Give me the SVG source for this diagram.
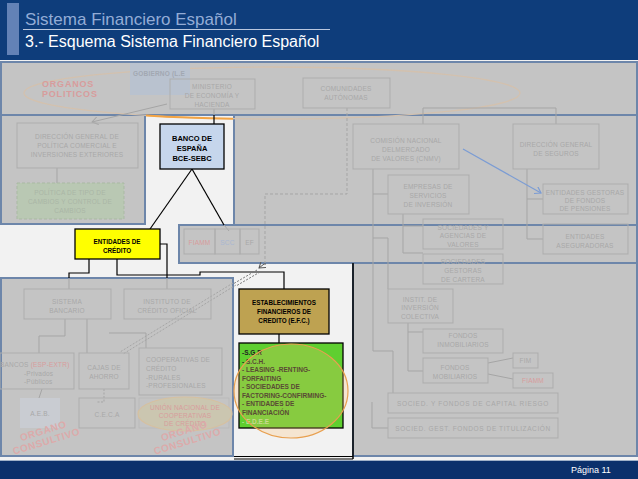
<svg xmlns="http://www.w3.org/2000/svg" width="638" height="479" viewBox="0 0 638 479">
<defs>
<style>
.t{font-family:"Liberation Sans",Arial,Helvetica,sans-serif;font-size:6.5px;fill:#a8a8a8;text-anchor:middle;letter-spacing:0.2px}
.tl{text-anchor:start}
.r{fill:#d89c9c}
.bu{fill:#a9b7d2}
.bx{fill:none;stroke:#adadad;stroke-width:1}
.ln{fill:none;stroke:#a5a5a5;stroke-width:1}
.k{fill:none;stroke:#000;stroke-width:1.2}
.pn{fill:#c4c4c4;stroke:#6d86aa;stroke-width:2}
.fb{font-family:"Liberation Sans",Arial,Helvetica,sans-serif;font-weight:bold;fill:#000;text-anchor:middle}
.g{font-family:"Liberation Sans",Arial,Helvetica,sans-serif;font-weight:bold;font-size:6.5px;fill:#222}
.oc{font-family:"Liberation Sans",Arial,Helvetica,sans-serif;font-weight:bold;font-size:10px;fill:#dcaaaa;text-anchor:middle;letter-spacing:0.5px}
</style>
<marker id="ag" markerWidth="8" markerHeight="8" refX="6" refY="4" orient="auto" markerUnits="userSpaceOnUse"><path d="M0,0 L6,4 L0,8" fill="none" stroke="#a5a5a5" stroke-width="1"/></marker>
<marker id="ab" markerWidth="8" markerHeight="8" refX="6" refY="4" orient="auto" markerUnits="userSpaceOnUse"><path d="M0,0 L6,4 L0,8" fill="none" stroke="#7b9cd4" stroke-width="1.2"/></marker>
<marker id="ad" markerWidth="8" markerHeight="8" refX="6" refY="4" orient="auto" markerUnits="userSpaceOnUse"><path d="M0,0 L6,4 L0,8" fill="none" stroke="#555" stroke-width="1"/></marker>
<clipPath id="cw"><rect x="146" y="114" width="87" height="10"/></clipPath>
</defs>

<!-- background -->
<rect x="0" y="0" width="638" height="479" fill="#f2f2f2"/>

<!-- header -->
<g id="header">
<rect x="0" y="0" width="638" height="60" fill="#0e3d7b"/>
<rect x="7" y="3" width="12" height="52" fill="#6382b6"/>
<text x="25" y="25" font-family="Liberation Sans,Arial,sans-serif" font-size="17" fill="#93acd6">Sistema Financiero Español</text>
<line x1="23" y1="29.5" x2="330" y2="29.5" stroke="#b9c7df" stroke-width="1"/>
<text x="25" y="47" font-family="Liberation Sans,Arial,sans-serif" font-size="16" fill="#ffffff">3.- Esquema Sistema Financiero Español</text>
</g>

<!-- overlay panels -->
<g id="panels">
<rect class="pn" x="1" y="62" width="636" height="53"/>
<rect class="pn" x="1" y="115" width="144" height="109"/>
<rect class="pn" x="234" y="115" width="403" height="110"/>
<rect class="pn" x="179" y="225" width="458" height="38"/>
<rect class="pn" x="1" y="278" width="232" height="178"/>
<rect class="pn" x="353" y="263" width="284" height="193"/>
<line x1="353" y1="263" x2="353" y2="459" stroke="#000" stroke-width="1.5"/>
<line x1="234" y1="456.5" x2="353" y2="456.5" stroke="#000" stroke-width="1"/>
<line x1="234" y1="459" x2="353" y2="459" stroke="#000" stroke-width="1"/>
</g>

<!-- big faded ellipse (organos politicos) -->
<g id="organos-politicos">
<ellipse cx="272" cy="93" rx="248" ry="26" fill="none" stroke="#d3c1ae" stroke-width="1.3"/>
<ellipse cx="272" cy="93" rx="248" ry="26" fill="none" stroke="#f4a443" stroke-width="2" clip-path="url(#cw)"/>
<text class="t tl r" x="42" y="87" style="font-size:9px;font-weight:bold;letter-spacing:0.8px">ORGANOS</text>
<text class="t tl r" x="42" y="97" style="font-size:9px;font-weight:bold;letter-spacing:0.8px">POLITICOS</text>
</g>

<!-- connectors -->
<g id="connectors">
<path class="ln" d="M167,104 L92,122" marker-end="url(#ag)"/>
<path class="ln" d="M214,109 V115"/>
<path class="ln" d="M57,168 V183"/>
<path class="ln" d="M423,124 V108 H556 V124"/>
<path class="ln" d="M373,169 V351 H393 V393"/>
<path class="ln" d="M373,194 H388"/>
<path class="ln" d="M373,238 H388 V289"/>
<path class="ln" d="M403,214 V253 H423"/>
<path class="ln" d="M403,226 H423"/>
<path class="ln" d="M527,169 V239 H543"/>
<path class="ln" d="M527,199 H543"/>
<path class="ln" d="M408,323 V371 H423"/>
<path class="ln" d="M408,332 H423"/>
<path class="ln" d="M488,363 L513,358"/>
<path class="ln" d="M488,374 L513,379"/>
<path class="ln" d="M372,402 V428 H388"/>
<path class="ln" d="M65,319 V336 H39 V353"/>
<path class="ln" d="M87,319 V353"/>
<path class="ln" d="M109,333 H146 V348"/>
<path class="ln" d="M42,389 L39,398"/>
<path class="ln" d="M104,389 V402 H97" stroke-dasharray="2 1.5"/>
<path class="ln" d="M69,278 V289"/>
<path class="ln" d="M167,278 V289"/>
<path class="ln" d="M224,225 L229,231"/>
<path class="ln" d="M347,108 V194 H265 V263" stroke-dasharray="3 2"/>
<path class="ln" d="M233,283 L120,352" stroke-dasharray="2 1.5"/>
<path class="ln" d="M236,285 L123,354" stroke-dasharray="2 1.5"/>
<path d="M463,149 L541,193" fill="none" stroke="#7b9cd4" stroke-width="1.2" marker-end="url(#ab)"/>
<path class="k" d="M214,115 V124"/>
<path class="k" d="M192,169 L150,229"/>
<path class="k" d="M192,169 L224,225"/>
<path class="k" d="M89,259 V273 H69 V278"/>
<path class="k" d="M117,259 V275 H200 V272 H284 V289"/>
<path class="k" d="M160,244 H167 V278"/>
<path class="k" d="M279,334 V343"/>
<path d="M265,263 V265" fill="none" stroke="#555" stroke-width="1" stroke-dasharray="3 2"/>
<path d="M264,264 L259,268" fill="none" stroke="#555" stroke-width="1" marker-end="url(#ad)"/>
<path d="M257,270 L233,284" fill="none" stroke="#777" stroke-width="1" stroke-dasharray="2 1.5"/>
<path d="M260,272 L236,286" fill="none" stroke="#777" stroke-width="1" stroke-dasharray="2 1.5"/>
</g>

<!-- top panel nodes -->
<g id="gobierno">
<rect x="130" y="63" width="60" height="32" fill="#b9c2cf"/>
<text class="t tl" x="133" y="76" style="font-weight:bold;fill:#a2a8b2">GOBIERNO (L.E</text>
</g>
<g id="ministerio">
<rect class="bx" x="170" y="79" width="85" height="30"/>
<text class="t" x="212" y="89">MINISTERIO</text>
<text class="t" x="212" y="98">DE ECONOMÍA Y</text>
<text class="t" x="212" y="107">HACIENDA</text>
</g>
<g id="comunidades">
<rect class="bx" x="303" y="78" width="87" height="30"/>
<text class="t" x="346" y="91">COMUNIDADES</text>
<text class="t" x="346" y="100">AUTÓNOMAS</text>
</g>

<!-- left panel nodes -->
<g id="dg-politica-comercial">
<rect class="bx" x="17" y="123" width="121" height="45"/>
<text class="t" x="77" y="139">DIRECCIÓN GENERAL DE</text>
<text class="t" x="77" y="148">POLÍTICA COMERCIAL E</text>
<text class="t" x="77" y="157">INVERSIONES EXTERIORES</text>
</g>
<g id="politica-tipo-cambio">
<rect x="17" y="183" width="107" height="36" fill="#b9c8b3" stroke="#a9b9a3" stroke-dasharray="3 2"/>
<text class="t" x="70" y="195" style="fill:#aab6a6">POLÍTICA DE TIPO DE</text>
<text class="t" x="70" y="204" style="fill:#aab6a6">CAMBIOS Y CONTROL DE</text>
<text class="t" x="70" y="213" style="fill:#aab6a6">CAMBIOS</text>
</g>

<!-- focus nodes -->
<g id="banco-espana">
<rect x="160" y="124" width="64" height="45" fill="#c6d6ec" stroke="#000" stroke-width="1.3"/>
<text class="fb" x="192" y="141" font-size="7.5">BANCO DE</text>
<text class="fb" x="192" y="151" font-size="7.5">ESPAÑA</text>
<text class="fb" x="192" y="161" font-size="7.5">BCE-SEBC</text>
</g>
<g id="entidades-credito">
<rect x="75" y="229" width="85" height="30" fill="#ffff00" stroke="#000" stroke-width="1.3"/>
<text class="fb" x="117" y="244" font-size="6.3">ENTIDADES DE</text>
<text class="fb" x="117" y="253" font-size="6.3">CRÉDITO</text>
</g>
<g id="efc">
<rect x="239" y="289" width="90" height="45" fill="#bea251" stroke="#000" stroke-width="1.3"/>
<text class="fb" x="284" y="305" font-size="6.3">ESTABLECIMIENTOS</text>
<text class="fb" x="284" y="314" font-size="6.3">FINANCIEROS DE</text>
<text class="fb" x="284" y="323" font-size="6.3">CREDITO  (E.F.C.)</text>
</g>
<g id="efc-tipos">
<rect x="239" y="343" width="104" height="85" fill="#5fcf30" stroke="#000" stroke-width="1.3"/>
<text class="g" x="242" y="355">-S.G.R</text>
<text class="g" x="242" y="364">- S.C.H.</text>
<text class="g" x="242" y="372">- LEASING -RENTING-</text>
<text class="g" x="242" y="381">FORFAITING</text>
<text class="g" x="242" y="389">- SOCIEDADES DE</text>
<text class="g" x="242" y="398">FACTORING-CONFIRMING-</text>
<text class="g" x="242" y="406">- ENTIDADES DE</text>
<text class="g" x="242" y="415">FINANCIACIÓN</text>
<text class="g" x="242" y="424" style="fill:#b6e29a">- E.D.E.E</text>
<ellipse cx="291" cy="391" rx="57" ry="47" fill="#ffc070" fill-opacity="0.25" stroke="#e8a050" stroke-width="1.2"/>
</g>

<!-- right panel nodes -->
<g id="cnmv">
<rect class="bx" x="353" y="124" width="106" height="45"/>
<text class="t" x="406" y="143">COMISIÓN NACIONAL</text>
<text class="t" x="406" y="152">DELMERCADO</text>
<text class="t" x="406" y="161">DE VALORES (CNMV)</text>
</g>
<g id="dg-seguros">
<rect class="bx" x="513" y="124" width="86" height="45"/>
<text class="t" x="556" y="147">DIRECCIÓN GENERAL</text>
<text class="t" x="556" y="156">DE SEGUROS</text>
</g>
<g id="gestoras-pensiones">
<rect class="bx" x="543" y="184" width="85" height="30"/>
<text class="t" x="585" y="195">ENTIDADES GESTORAS</text>
<text class="t" x="585" y="203">DE FONDOS</text>
<text class="t" x="585" y="211">DE PENSIONES</text>
</g>
<g id="aseguradoras">
<rect class="bx" x="543" y="224" width="85" height="30"/>
<text class="t" x="585" y="239">ENTIDADES</text>
<text class="t" x="585" y="248">ASEGURADORAS</text>
</g>
<g id="esi">
<rect class="bx" x="388" y="175" width="81" height="39"/>
<text class="t" x="428" y="189">EMPRESAS DE</text>
<text class="t" x="428" y="198">SERVICIOS</text>
<text class="t" x="428" y="207">DE INVERSIÓN</text>
</g>
<g id="sav">
<rect class="bx" x="423" y="219" width="80" height="30"/>
<text class="t" x="463" y="230">SOCIEDADES Y</text>
<text class="t" x="463" y="238">AGENCIAS DE</text>
<text class="t" x="463" y="247">VALORES</text>
</g>
<g id="sgc">
<rect class="bx" x="423" y="254" width="80" height="30"/>
<text class="t" x="463" y="264">SOCIEDADES</text>
<text class="t" x="463" y="273">GESTORAS</text>
<text class="t" x="463" y="282">DE CARTERA</text>
</g>

<!-- band nodes -->
<g id="fiamm-scc-ef">
<rect class="bx" x="184" y="229" width="31" height="25"/>
<rect class="bx" x="215" y="229" width="25" height="25"/>
<rect class="bx" x="240" y="229" width="19" height="25"/>
<text class="t r" x="199.5" y="245">FIAMM</text>
<text class="t bu" x="227.5" y="245">SCC</text>
<text class="t" x="249.5" y="245">EF</text>
</g>

<!-- bottom-right nodes -->
<g id="iic">
<rect class="bx" x="388" y="289" width="65" height="34"/>
<text class="t" x="420" y="302">INSTIT. DE</text>
<text class="t" x="420" y="310">INVERSIÓN</text>
<text class="t" x="420" y="319">COLECTIVA</text>
</g>
<g id="fondos-inmobiliarios">
<rect class="bx" x="423" y="329" width="80" height="24"/>
<text class="t" x="463" y="338">FONDOS</text>
<text class="t" x="463" y="347">INMOBILIARIOS</text>
</g>
<g id="fondos-mobiliarios">
<rect class="bx" x="423" y="358" width="65" height="25"/>
<text class="t" x="455" y="370">FONDOS</text>
<text class="t" x="455" y="379">MOBILIARIOS</text>
</g>
<g id="fim">
<rect class="bx" x="513" y="353" width="25" height="15"/>
<text class="t" x="525.5" y="363">FIM</text>
</g>
<g id="fiamm">
<rect class="bx" x="513" y="373" width="40" height="15"/>
<text class="t r" x="533" y="383">FIAMM</text>
</g>
<g id="capital-riesgo">
<rect class="bx" x="388" y="393" width="170" height="20"/>
<text class="t" x="473" y="406" style="letter-spacing:0.7px">SOCIED. Y FONDOS DE  CAPITAL RIESGO</text>
</g>
<g id="titulizacion">
<rect class="bx" x="388" y="418" width="170" height="20"/>
<text class="t" x="473" y="431" style="letter-spacing:0.6px">SOCIED. GEST. FONDOS DE TITULIZACIÓN</text>
</g>

<!-- bottom-left nodes -->
<g id="sistema-bancario">
<rect class="bx" x="24" y="289" width="87" height="30"/>
<text class="t" x="67" y="304">SISTEMA</text>
<text class="t" x="67" y="313">BANCARIO</text>
</g>
<g id="ico">
<rect class="bx" x="124" y="289" width="87" height="30"/>
<text class="t" x="167" y="304">INSTITUTO DE</text>
<text class="t" x="167" y="313">CRÉDITO OFICIAL</text>
</g>
<g id="bancos">
<rect class="bx" x="0" y="353" width="74" height="36"/>
<text class="t tl" x="0" y="367">BANCOS <tspan class="r">(ESP-EXTR)</tspan></text>
<text class="t tl" x="24" y="376">-Privados</text>
<text class="t tl" x="24" y="384">-Públicos</text>
</g>
<g id="cajas">
<rect class="bx" x="79" y="353" width="50" height="36"/>
<text class="t" x="104" y="370">CAJAS DE</text>
<text class="t" x="104" y="379">AHORRO</text>
</g>
<g id="cooperativas">
<rect class="bx" x="139" y="348" width="83" height="47"/>
<text class="t tl" x="146" y="362">COOPERATIVAS DE</text>
<text class="t tl" x="146" y="371">CRÉDITO</text>
<text class="t tl" x="146" y="380">-RURALES</text>
<text class="t tl" x="146" y="388">-PROFESIONALES</text>
</g>
<g id="aeb">
<rect x="20" y="398" width="40" height="30" fill="#c9ccd2"/>
<text class="t" x="40" y="416">A.E.B.</text>
</g>
<g id="ceca">
<rect class="bx" x="79" y="398" width="56" height="30"/>
<text class="t" x="107" y="417">C.E.C.A</text>
</g>
<g id="union-cooperativas">
<rect x="139" y="398" width="90" height="30" fill="none" stroke="#b8b8b8" stroke-width="0.8"/>
<ellipse cx="185" cy="414" rx="47" ry="17" fill="#cbc6b0" stroke="#d6c0a0" stroke-width="1.2"/>
<text class="t r" x="185" y="410">UNIÓN NACIONAL DE</text>
<text class="t r" x="185" y="418">COOPERATIVAS</text>
<text class="t r" x="185" y="426">DE CRÉDITO</text>
</g>
<g id="organo-consultivo">
<g transform="translate(45,437) rotate(-17)">
<text class="oc" x="0" y="-3">ORGANO</text>
<text class="oc" x="0" y="8">CONSULTIVO</text>
</g>
<g transform="translate(186,437) rotate(-17)">
<text class="oc" x="0" y="-3">ORGANO</text>
<text class="oc" x="0" y="8">CONSULTIVO</text>
</g>
</g>

<!-- footer -->
<g id="footer">
<line x1="0" y1="460.5" x2="638" y2="460.5" stroke="#9fb0c8" stroke-width="1"/>
<rect x="0" y="461" width="638" height="18" fill="#0b306c"/>
<text x="571" y="473" font-family="Liberation Sans,Arial,sans-serif" font-size="9" fill="#ffffff">Página 11</text>
</g>
</svg>
